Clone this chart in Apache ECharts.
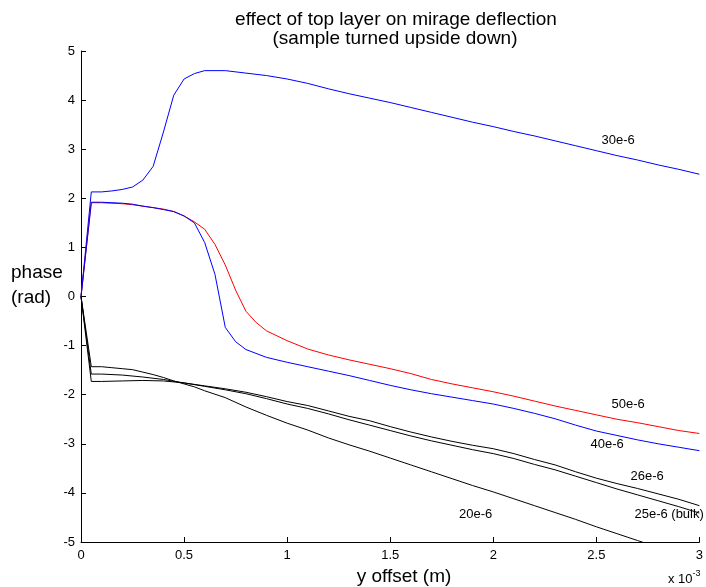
<!DOCTYPE html>
<html>
<head>
<meta charset="utf-8">
<script src="https://cdn.jsdelivr.net/npm/echarts@6/dist/echarts.min.js"></script>
<style>html,body{margin:0;padding:0;background:#fff;}#c{width:706px;height:587px;}</style>
</head>
<body>
<div id="c"></div>
<script>
// x values are in units of 1e-3 m
const xTicks = [0, 0.5, 1, 1.5, 2, 2.5, 3];
const yTicks = [-5, -4, -3, -2, -1, 0, 1, 2, 3, 4, 5];

const s30 = [[0,0],[0.05,2.13],[0.1,2.13],[0.15,2.15],[0.2,2.18],[0.25,2.23],[0.3,2.37],[0.35,2.65],[0.4,3.35],[0.45,4.1],[0.5,4.43],[0.55,4.54],[0.6,4.6],[0.7,4.6],[0.8,4.55],[0.9,4.5],[1.0,4.43],[1.1,4.34],[1.2,4.23],[1.3,4.13],[1.4,4.04],[1.5,3.95],[1.6,3.85],[1.7,3.75],[1.8,3.65],[1.9,3.55],[2.0,3.46],[2.1,3.36],[2.2,3.27],[2.3,3.17],[2.4,3.07],[2.5,2.97],[2.6,2.87],[2.7,2.78],[2.8,2.68],[2.9,2.59],[3.0,2.49]];

const s50 = [[0,0],[0.05,1.91],[0.1,1.91],[0.15,1.9],[0.2,1.89],[0.25,1.87],[0.3,1.84],[0.35,1.81],[0.4,1.78],[0.45,1.73],[0.5,1.64],[0.55,1.52],[0.6,1.37],[0.65,1.06],[0.7,0.64],[0.75,0.13],[0.8,-0.3],[0.85,-0.53],[0.9,-0.7],[1.0,-0.9],[1.1,-1.07],[1.2,-1.19],[1.3,-1.29],[1.4,-1.38],[1.5,-1.47],[1.6,-1.57],[1.7,-1.69],[1.8,-1.78],[1.9,-1.86],[2.0,-1.94],[2.1,-2.03],[2.2,-2.13],[2.3,-2.23],[2.4,-2.32],[2.5,-2.41],[2.6,-2.5],[2.7,-2.57],[2.8,-2.65],[2.9,-2.73],[3.0,-2.79]];

const s40 = [[0,0],[0.05,1.92],[0.1,1.92],[0.15,1.91],[0.2,1.9],[0.25,1.88],[0.3,1.84],[0.35,1.81],[0.4,1.77],[0.45,1.73],[0.5,1.64],[0.55,1.5],[0.6,1.1],[0.65,0.45],[0.7,-0.63],[0.75,-0.92],[0.8,-1.08],[0.9,-1.24],[1.0,-1.34],[1.1,-1.43],[1.2,-1.52],[1.3,-1.61],[1.4,-1.71],[1.5,-1.81],[1.6,-1.9],[1.7,-1.98],[1.8,-2.05],[1.9,-2.12],[2.0,-2.19],[2.1,-2.28],[2.2,-2.38],[2.3,-2.49],[2.4,-2.62],[2.5,-2.74],[2.6,-2.83],[2.7,-2.92],[2.8,-3.0],[2.9,-3.07],[3.0,-3.14]];

const s26 = [[0,0],[0.05,-1.58],[0.1,-1.58],[0.2,-1.6],[0.3,-1.64],[0.4,-1.69],[0.5,-1.76],[0.6,-1.82],[0.7,-1.88],[0.8,-1.95],[0.9,-2.04],[1.0,-2.14],[1.1,-2.22],[1.2,-2.33],[1.3,-2.44],[1.4,-2.53],[1.5,-2.65],[1.6,-2.76],[1.7,-2.86],[1.8,-2.95],[1.9,-3.03],[2.0,-3.1],[2.1,-3.2],[2.2,-3.32],[2.3,-3.43],[2.4,-3.57],[2.5,-3.7],[2.6,-3.81],[2.7,-3.91],[2.8,-4.02],[2.9,-4.13],[3.0,-4.26]];

const s25 = [[0,0],[0.05,-1.73],[0.1,-1.73],[0.2,-1.72],[0.3,-1.71],[0.4,-1.72],[0.5,-1.76],[0.6,-1.83],[0.7,-1.9],[0.8,-1.98],[0.9,-2.08],[1.0,-2.19],[1.1,-2.28],[1.2,-2.39],[1.3,-2.51],[1.4,-2.62],[1.5,-2.73],[1.6,-2.84],[1.7,-2.94],[1.8,-3.03],[1.9,-3.12],[2.0,-3.2],[2.1,-3.3],[2.2,-3.42],[2.3,-3.53],[2.4,-3.66],[2.5,-3.79],[2.6,-3.92],[2.7,-4.04],[2.8,-4.16],[2.9,-4.28],[3.0,-4.41]];

const s20 = [[0,0],[0.05,-1.43],[0.1,-1.43],[0.15,-1.45],[0.2,-1.47],[0.25,-1.49],[0.3,-1.54],[0.35,-1.59],[0.4,-1.65],[0.45,-1.72],[0.5,-1.78],[0.55,-1.84],[0.6,-1.92],[0.7,-2.06],[0.8,-2.25],[0.9,-2.42],[1.0,-2.58],[1.1,-2.72],[1.2,-2.88],[1.3,-3.02],[1.4,-3.15],[1.5,-3.29],[1.6,-3.43],[1.7,-3.57],[1.8,-3.71],[1.9,-3.85],[2.0,-3.98],[2.1,-4.12],[2.2,-4.26],[2.3,-4.4],[2.4,-4.54],[2.5,-4.69],[2.6,-4.83],[2.7,-4.97],[2.8,-5.11],[2.9,-5.25],[3.0,-5.39]];

const seriesNames = ['30e-6', '50e-6', '40e-6', '26e-6', '25e-6 (bulk)', '20e-6'];
const seriesData = [s30, s50, s40, s26, s25, s20];
const seriesColors = ['#0000ff', '#ff0000', '#0000ff', '#000000', '#000000', '#000000'];
// label anchors (data coords, left edge of text)
const labelAnchors = [[2.525, 3.18], [2.574, -2.19], [2.472, -3.01], [2.666, -3.66], [2.685, -4.43], [1.834, -4.43]];

const FONT = '"Liberation Sans", Arial, Helvetica, sans-serif';
const chart = echarts.init(document.getElementById('c'), null, {renderer: 'canvas'});

const axisCommon = {
  axisLine: {show: true, onZero: false, lineStyle: {color: '#000', width: 1}},
  axisTick: {show: true, inside: true, length: 5, lineStyle: {color: '#000'}},
  splitLine: {show: false},
  axisLabel: {color: '#000', fontSize: 13, fontFamily: FONT}
};

chart.setOption({
  animation: false,
  backgroundColor: '#fff',
  grid: {left: 81, right: 5, top: 51, bottom: 45, containLabel: false},
  xAxis: Object.assign({type: 'value', min: xTicks[0], max: xTicks[xTicks.length-1], interval: 0.5}, axisCommon,
    {axisLabel: Object.assign({}, axisCommon.axisLabel, {margin: 7})}),
  yAxis: Object.assign({type: 'value', min: yTicks[0], max: yTicks[yTicks.length-1], interval: 1}, axisCommon,
    {axisLabel: Object.assign({}, axisCommon.axisLabel, {margin: 6})}),
  series: seriesData.map((d, i) => ({
    type: 'line', name: seriesNames[i], data: d, showSymbol: false, symbol: 'none',
    lineStyle: {color: seriesColors[i], width: 1}, clip: true, z: 2
  }))
});

const texts = [];
const big = '19px ' + FONT;
texts.push({type: 'text', x: 396, y: 20, style: {text: 'effect of top layer on mirage deflection', font: big, fill: '#000', textAlign: 'center', textVerticalAlign: 'middle'}});
texts.push({type: 'text', x: 395, y: 39, style: {text: '(sample turned upside down)', font: big, fill: '#000', textAlign: 'center', textVerticalAlign: 'middle'}});
texts.push({type: 'text', x: 404, y: 577, style: {text: 'y offset (m)', font: big, fill: '#000', textAlign: 'center', textVerticalAlign: 'middle'}});
texts.push({type: 'text', x: 11, y: 273, style: {text: 'phase', font: big, fill: '#000', textAlign: 'left', textVerticalAlign: 'middle'}});
texts.push({type: 'text', x: 11, y: 298, style: {text: '(rad)', font: big, fill: '#000', textAlign: 'left', textVerticalAlign: 'middle'}});
texts.push({type: 'text', x: 668, y: 579, style: {text: '{a|x 10}{b|-3}', textAlign: 'left', textVerticalAlign: 'middle',
  rich: {a: {font: '13px ' + FONT, fill: '#000'}, b: {font: '9px ' + FONT, fill: '#000', verticalAlign: 'top', padding: [0,0,10,0]}}}});
labelAnchors.forEach((a, i) => {
  const p = chart.convertToPixel({gridIndex: 0}, a);
  texts.push({type: 'text', x: p[0], y: p[1], style: {text: seriesNames[i], font: '13px ' + FONT, fill: '#000', textAlign: 'left', textVerticalAlign: 'middle'}});
});
chart.setOption({graphic: texts});
</script>
</body>
</html>
